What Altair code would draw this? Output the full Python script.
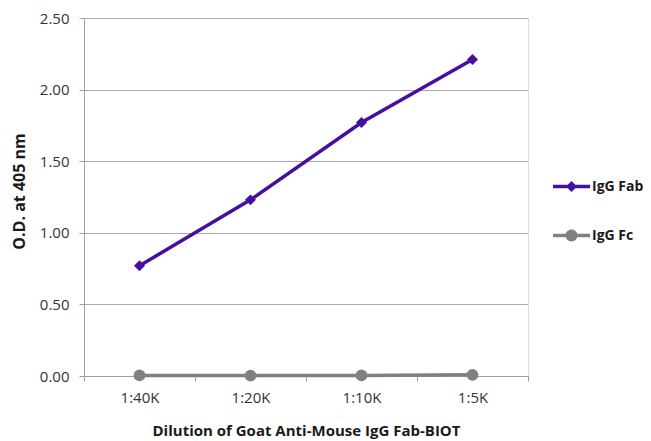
import altair as alt
import pandas as pd

dilutions = ["1:40K", "1:20K", "1:10K", "1:5K"]
series_names = ["IgG Fab", "IgG Fc"]
fab_values = [0.77, 1.23, 1.77, 2.21]
fc_values = [0.004, 0.003, 0.004, 0.008]
colors = ["#46109F", "#808080"]
y_ticks = [0.0, 0.5, 1.0, 1.5, 2.0, 2.5]

rows = []
for d, v in zip(dilutions, fab_values):
    rows.append({"dilution": d, "series": "IgG Fab", "od": v})
for d, v in zip(dilutions, fc_values):
    rows.append({"dilution": d, "series": "IgG Fc", "od": v})
df = pd.DataFrame(rows)

FONT = "Open Sans"

x_enc = alt.X(
    "dilution:N",
    sort=dilutions,
    scale=alt.Scale(type="band", paddingInner=0, paddingOuter=0),
    axis=alt.Axis(
        title="Dilution of Goat Anti-Mouse IgG Fab-BIOT",
        labelAngle=0,
        tickBand="extent",
        tickSize=5,
        tickColor="#A0A0A0",
        domainColor="#A0A0A0",
        grid=False,
        labelFont=FONT,
        labelFontSize=15,
        labelColor="#333333",
        labelPadding=9,
        titleFont=FONT,
        titleFontSize=15,
        titleFontWeight="bold",
        titleColor="#1a1a1a",
        titleY=54,
        titleBaseline="middle",
    ),
)
y_enc = alt.Y(
    "od:Q",
    scale=alt.Scale(domain=[0, 2.5], nice=False),
    axis=alt.Axis(
        title="O.D. at 405 nm",
        values=y_ticks,
        format=".2f",
        tickSize=5,
        tickColor="#A0A0A0",
        domainColor="#A0A0A0",
        gridColor="#A8A8A8",
        labelFont=FONT,
        labelFontSize=15,
        labelColor="#333333",
        labelPadding=10,
        titleFont=FONT,
        titleFontSize=16,
        titleFontWeight="bold",
        titleColor="#1a1a1a",
        titleX=-65,
        titleY=173,
        titleAngle=270,
        titleAlign="center",
        titleBaseline="middle",
    ),
)
color_scale = alt.Scale(domain=series_names, range=colors)

base = alt.Chart(df)
fab = base.transform_filter(alt.datum.series == series_names[0])
fc = base.transform_filter(alt.datum.series == series_names[1])

line_fab = fab.mark_line(strokeWidth=3.5, color=colors[0]).encode(x=x_enc, y=y_enc)
line_fc = fc.mark_line(strokeWidth=3.5, color=colors[1]).encode(x=x_enc, y=y_enc)
diamonds = fab.mark_point(shape="diamond", filled=True, size=120, opacity=1,
                          color=colors[0]).encode(x=x_enc, y=y_enc)
circles = fc.mark_point(shape="circle", filled=True, size=140, opacity=1,
                        color=colors[1]).encode(x=x_enc, y=y_enc)

fab_sym = "M-1,-0.095L1,-0.095L1,0.095L-1,0.095Z M0,-0.3L0.3,0L0,0.3L-0.3,0Z"
fc_sym = "M-1,-0.095L1,-0.095L1,0.095L-1,0.095Z M0.32,0A0.32,0.32 0 1,1 -0.32,0A0.32,0.32 0 1,1 0.32,0Z"

legend_props = dict(
    title=None, orient="none", legendX=469, legendY=150,
    symbolSize=1369, symbolStrokeWidth=0,
    rowPadding=23, labelOffset=2, padding=0,
    labelFont=FONT, labelFontSize=14, labelFontWeight="bold", labelColor="#1a1a1a",
)

legend_layer = base.transform_filter("false").mark_point(filled=True, opacity=1).encode(
    x=x_enc, y=y_enc,
    color=alt.Color("series:N", scale=color_scale, legend=alt.Legend(**legend_props)),
    shape=alt.Shape("series:N", scale=alt.Scale(domain=series_names, range=[fab_sym, fc_sym]),
                    legend=alt.Legend(**legend_props)),
)

chart = alt.layer(line_fab, line_fc, diamonds, circles, legend_layer).properties(
    width=444, height=358,
    autosize=alt.AutoSizeParams(type="none"),
    padding={"left": 76, "top": 10, "right": 115, "bottom": 63},
).configure_view(stroke=None).configure(background="white")

chart.save("out.html", embed_options={"renderer": "svg", "actions": False})
